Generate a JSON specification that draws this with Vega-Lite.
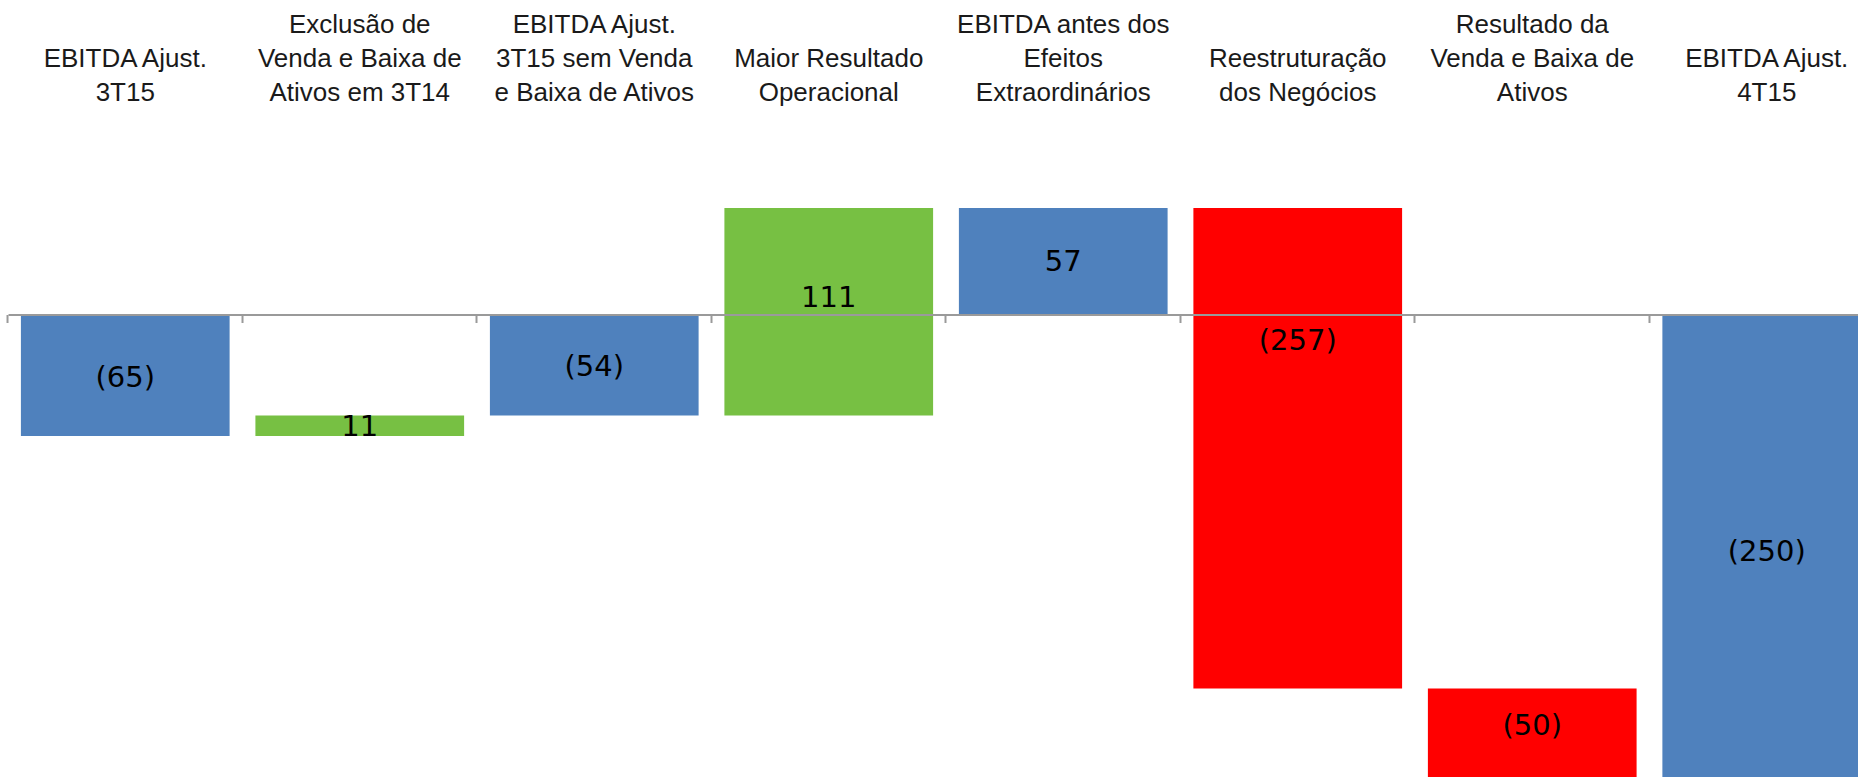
{
  "$schema": "https://vega.github.io/schema/vega-lite/v6.json",
  "autosize": {"type": "none"},
  "padding": {"left": 8, "top": 120, "right": 0, "bottom": 0},
  "width": 1876,
  "height": 680.7,
  "background": "#ffffff",
  "config": {"view": {"stroke": null}},
  "data": {
    "values": [
      {"categoria": "EBITDA Ajust.\n3T15", "inicio": 0, "fim": -65, "tipo": "total", "rotulo": "(65)", "rotulo_em": -34},
      {"categoria": "Exclusão de\nVenda e Baixa de\nAtivos em 3T14", "inicio": -65, "fim": -54, "tipo": "aumento", "rotulo": "11", "rotulo_em": -60},
      {"categoria": "EBITDA Ajust.\n3T15 sem Venda\ne Baixa de Ativos", "inicio": 0, "fim": -54, "tipo": "total", "rotulo": "(54)", "rotulo_em": -28},
      {"categoria": "Maior Resultado\nOperacional", "inicio": -54, "fim": 57, "tipo": "aumento", "rotulo": "111", "rotulo_em": 9},
      {"categoria": "EBITDA antes dos\nEfeitos\nExtraordinários", "inicio": 0, "fim": 57, "tipo": "total", "rotulo": "57", "rotulo_em": 28},
      {"categoria": "Reestruturação\ndos Negócios", "inicio": 57, "fim": -200, "tipo": "redução", "rotulo": "(257)", "rotulo_em": -14},
      {"categoria": "Resultado da\nVenda e Baixa de\nAtivos", "inicio": -200, "fim": -250, "tipo": "redução", "rotulo": "(50)", "rotulo_em": -220},
      {"categoria": "EBITDA Ajust.\n4T15", "inicio": 0, "fim": -250, "tipo": "total", "rotulo": "(250)", "rotulo_em": -127}
    ]
  },
  "resolve": {"axis": {"x": "independent"}},
  "layer": [
    {
      "mark": {"type": "bar", "clip": true},
      "encoding": {
        "x": {
          "field": "categoria", "type": "nominal", "sort": null,
          "scale": {"paddingInner": 0.11, "paddingOuter": 0.055},
          "axis": {
            "orient": "top", "title": null, "domain": false, "ticks": false,
            "labelAngle": 0, "labelAlign": "center", "labelBaseline": "bottom",
            "labelExpr": "length(split(datum.label, '\\n')) < 3 ? split('\\n' + datum.label, '\\n') : split(datum.label, '\\n')",
            "labelFont": "Liberation Sans", "labelFontSize": 26, "labelLineHeight": 34,
            "labelColor": "#1a1a1a", "labelPadding": 82, "labelLimit": 400
          }
        },
        "y": {
          "field": "inicio", "type": "quantitative",
          "scale": {"domain": [-260, 104], "nice": false, "zero": false},
          "axis": null
        },
        "y2": {"field": "fim"},
        "color": {
          "field": "tipo", "type": "nominal",
          "scale": {"domain": ["total", "aumento", "redução"], "range": ["#4F81BD", "#77C043", "#FF0000"]},
          "legend": null
        }
      }
    },
    {
      "mark": {"type": "text", "font": "DejaVu Sans", "fontSize": 29, "color": "#000000", "baseline": "middle", "align": "center"},
      "encoding": {
        "x": {
          "field": "categoria", "type": "nominal", "sort": null,
          "axis": {
            "orient": "bottom", "title": null, "labels": false,
            "offset": -486.2, "domainColor": "#9a9a9a", "domainWidth": 2,
            "tickColor": "#9a9a9a", "tickWidth": 2, "tickSize": 8,
            "bandPosition": -0.0618, "zindex": 1, "grid": false
          }
        },
        "y": {"field": "rotulo_em", "type": "quantitative"},
        "text": {"field": "rotulo"}
      }
    }
  ]
}
